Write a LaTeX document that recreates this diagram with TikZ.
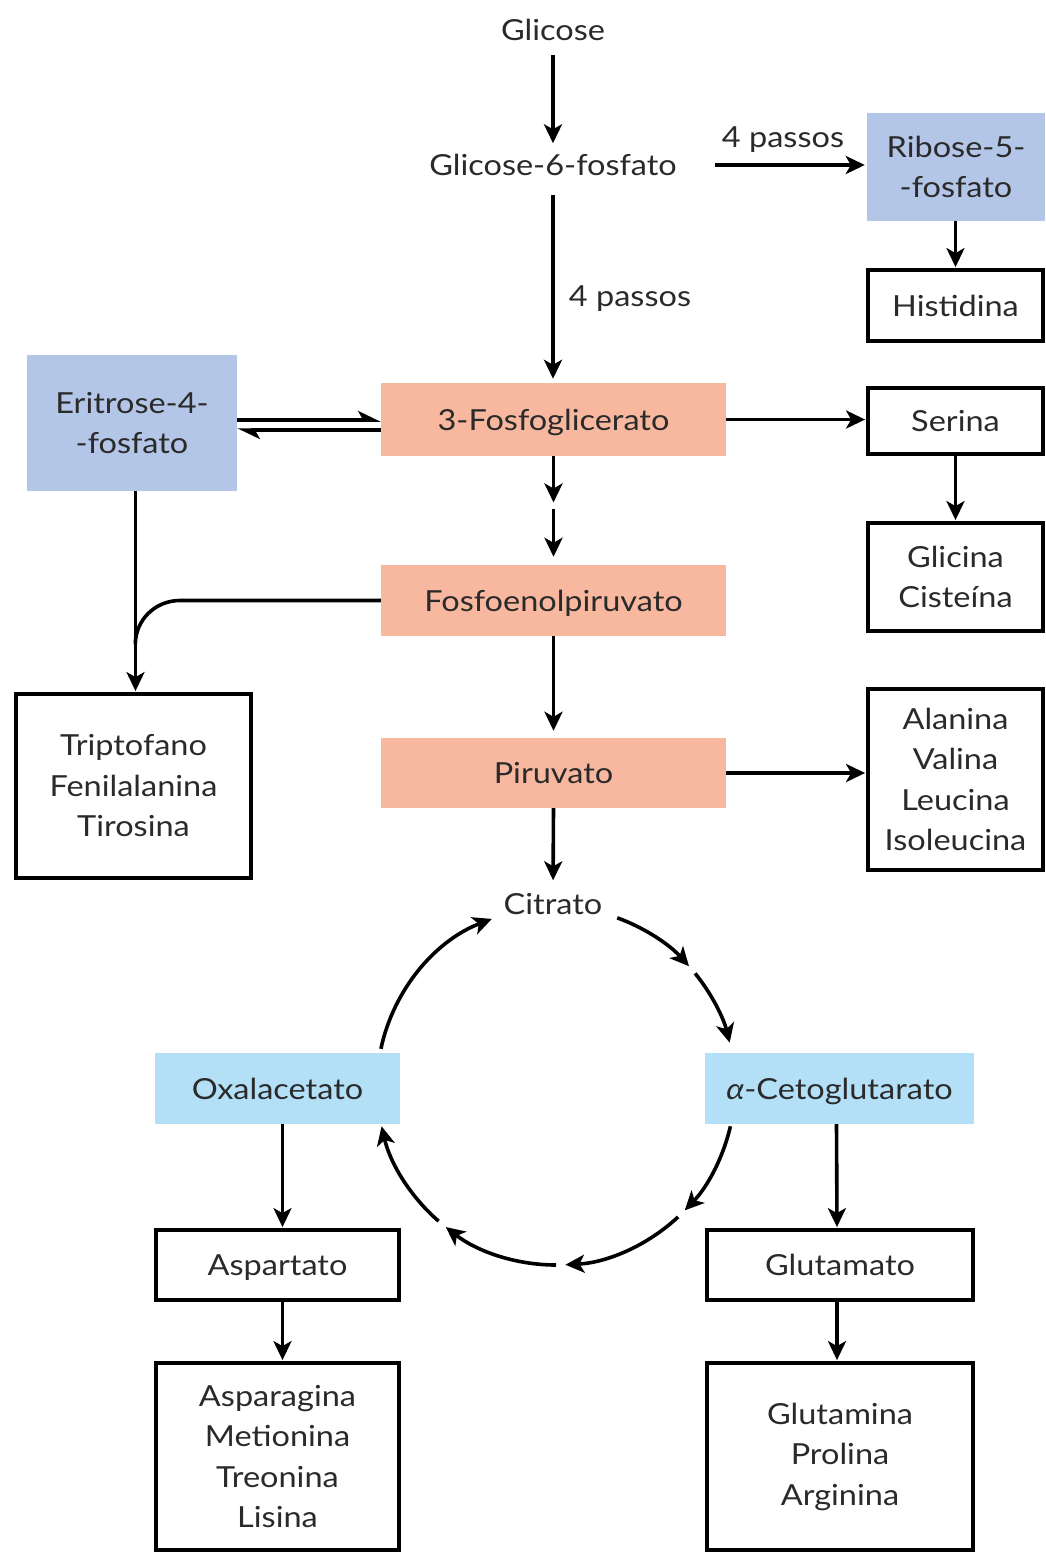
\documentclass[tikz,border=0pt]{standalone}
\usepackage{fontspec}
\setmainfont{Lato}[FakeStretch=1.12]
\usetikzlibrary{arrows.meta,calc}
\definecolor{salmon}{HTML}{F8B8A0}
\definecolor{lblue}{HTML}{B4C6E7}
\definecolor{lcyan}{HTML}{B3E0F6}
\definecolor{txtc}{HTML}{2A2A2A}
\begin{document}
\begin{tikzpicture}[x=1pt,y=-1pt,
  every node/.style={font=\fontsize{29}{40.5}\selectfont, text=txtc, align=center, inner sep=0pt},
  lbl/.style={text height=21pt,text depth=0pt},
  pbox/.style 2 args={draw=black, line width=3.8pt, minimum width=#1, minimum height=#2},
  fbox/.style 2 args={minimum width=#1, minimum height=#2},
  arr/.style={draw=black, line width=3.6pt, -{Stealth[length=19pt,width=18pt,inset=5pt]}},
  harp/.style={draw=black, line width=3.6pt, -{Stealth[harpoon,length=19pt,width=18pt,inset=5pt]}},
  plainline/.style={draw=black, line width=3.6pt}
]
\fill[white] (0,0) rectangle (1045,1553);
\useasboundingbox (0,0) rectangle (1045,1553);

% nodes
\node[lbl] (glic) at (553,30) {Glicose};
\node[lbl] (g6p) at (553,165) {Glicose-6-fosfato};
\node[lbl] (p2) at (783,137) {4 passos};
\node[lbl] (p1) at (630,296) {4 passos};
\node[fbox={178}{108}, fill=lblue] (rib) at (956,167) {Ribose-5-\\-fosfato};
\node[pbox={175}{71}, lbl] (his) at (955.5,305.5) {Histidina};
\node[fbox={210}{136}, fill=lblue] (eri) at (132,423) {Eritrose-4-\\-fosfato};
\node[fbox={345}{73}, fill=salmon, lbl] (pg3) at (553.5,419.5) {3-Fosfoglicerato};
\node[pbox={175}{66}, lbl] (ser) at (955.5,421) {Serina};
\node[pbox={175}{108}] (gli) at (955.5,577) {Glicina\\Cisteína};
\node[fbox={345}{71}, fill=salmon, lbl] (pep) at (553.5,600.5) {Fosfoenolpiruvato};
\node[pbox={235}{184}] (tri) at (133.5,786) {Triptofano\\Fenilalanina\\Tirosina};
\node[fbox={345}{70}, fill=salmon, lbl] (pir) at (553.5,773) {Piruvato};
\node[pbox={175}{181}] (ala) at (955.5,779.5) {Alanina\\Valina\\Leucina\\Isoleucina};
\node[lbl] (cit) at (553,904) {Citrato};
\node[fbox={245}{71}, fill=lcyan, lbl] (oxa) at (277.5,1088.5) {Oxalacetato};
\node[fbox={269}{71}, fill=lcyan, lbl] (akg) at (839.5,1088.5) {{\itshape α}-Cetoglutarato};
\node[pbox={243}{70}, lbl] (asp) at (277.5,1265) {Aspartato};
\node[pbox={243}{187}] (aspg) at (277.5,1456.5) {Asparagina\\Metionina\\Treonina\\Lisina};
\node[pbox={266}{70}, lbl] (glu) at (840,1265) {Glutamato};
\node[pbox={266}{187}] (glum) at (840,1456.5) {Glutamina\\Prolina\\Arginina};
\coordinate (cyc) at (556,1086);

% connectors
\draw[arr, shorten <=14pt, shorten >=11pt] (glic) -- (g6p);
\draw[arr, shorten <=19pt, shorten >=4pt] (g6p.south) -- (g6p.south |- pg3.north);
\draw[arr, shorten >=2pt] ([xshift=162pt]g6p.center) -- (g6p -| rib.west);
\draw[arr, shorten >=1pt] (rib.south -| his.north) -- (his.north);
\coordinate (e1) at ([yshift=3pt]eri.east);
\coordinate (e2) at ([yshift=-7pt]eri.east);
\draw[harp] (e1) -- (e1 -| pg3.west);
\draw[harp] (e2 -| pg3.west) -- (e2);
\draw[arr, shorten >=1pt] (pg3.east) -- (pg3.east -| ser.west);
\draw[arr, shorten >=1pt] (ser.south) -- (ser.south |- gli.north);
\coordinate (m1) at ($(pg3.south)!0.5!(pep.north)$);
\draw[arr, shorten >=8pt] (pg3.south) -- (m1);
\draw[arr, shorten <=-2pt, shorten >=8pt] (m1) -- (pep.north);
\draw[arr, shorten >=1pt] ([xshift=2pt]eri.south -| tri.north) -- ([xshift=2pt]tri.north);
\draw[plainline] (pep.west) -- ++(-201,0) to[out=180,in=90] ++(-44.5,44);
\draw[arr, shorten >=7pt] (pep.south) -- (pir.north);
\draw[arr, shorten >=1pt] (pir.east) -- (pir.east -| ala.west);
\draw[arr, shorten >=13pt] (pir.south) -- (cit.north);
% cycle
\draw[arr] ([shift={(168:179pt)}]cyc) arc[start angle=168,end angle=111,radius=179pt];
\draw[arr] ([shift={(70:179pt)}]cyc) arc[start angle=70,end angle=42,radius=179pt];
\draw[arr] ([shift={(39:179pt)}]cyc) arc[start angle=39,end angle=14,radius=179pt];
\draw[arr] ([shift={(-13:179pt)}]cyc) arc[start angle=-13,end angle=-44,radius=179pt];
\draw[arr] ([shift={(-47:179pt)}]cyc) arc[start angle=-47,end angle=-87,radius=179pt];
\draw[arr] ([shift={(-90:179pt)}]cyc) arc[start angle=-90,end angle=-128,radius=179pt];
\draw[arr] ([shift={(-131:179pt)}]cyc) arc[start angle=-131,end angle=-167,radius=179pt];
% lower branches
\draw[arr, shorten >=1pt] ([xshift=5pt]oxa.south) -- ([xshift=5pt]asp.north);
\draw[arr, shorten >=1pt] ([xshift=5pt]asp.south) -- ([xshift=5pt]aspg.north);
\draw[arr, shorten >=1pt] ([xshift=-3pt]akg.south) -- ([xshift=-3pt]glu.north);
\draw[arr, shorten >=1pt] ([xshift=-3pt]glu.south) -- ([xshift=-3pt]glum.north);
\end{tikzpicture}
\end{document}
